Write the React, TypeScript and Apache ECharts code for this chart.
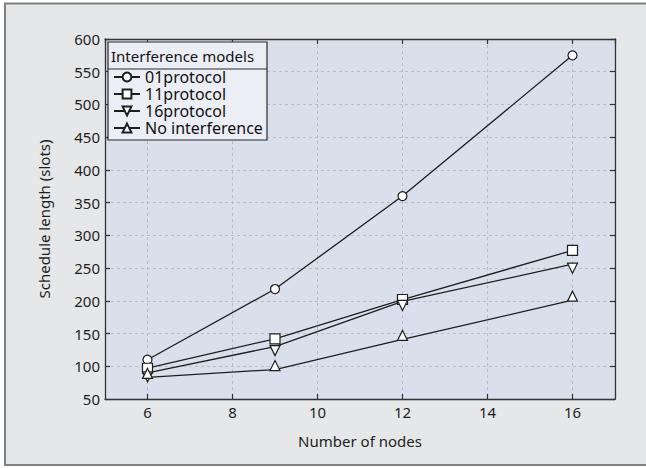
import React, { useEffect, useRef } from "react";
import * as echarts from "echarts";

const nodes = [6, 9, 12, 16];
const seriesNames = ["01protocol", "11protocol", "16protocol", "No interference"];
const protocol01 = [110, 218, 360, 575];
const protocol11 = [97, 142, 202, 277];
const protocol16 = [90, 130, 199, 256];
const noInterference = [83, 95, 141, 201];
const legendTitle = "Interference models";
const xName = "Number of nodes";
const yName = "Schedule length (slots)";

const FONT = "Noto Sans";
const INK = "#1e1e1e";

export default function App() {
  const ref = useRef<HTMLDivElement>(null);
  useEffect(() => {
    if (!ref.current) return;
    const chart = echarts.init(ref.current, undefined, { renderer: "svg" });
    const values = [protocol01, protocol11, protocol16, noInterference];
    const symbols = ["circle", "rect", "triangle", "triangle"];
    const rotates = [0, 0, 180, 0];
    const offsets = [[0, 0], [0, 0], [0, 4], [0, -4]];
    const sizes = [9, 10, 10, 10];
    const series = values.map((vals, i) => ({
      name: seriesNames[i],
      type: "line",
      data: nodes.map((n, j) => [n, vals[j]]),
      symbol: symbols[i],
      symbolSize: sizes[i],
      symbolRotate: rotates[i],
      symbolOffset: offsets[i],
      showAllSymbol: true,
      lineStyle: { color: INK, width: 1.3 },
      itemStyle: { color: "#ffffff", borderColor: INK, borderWidth: 1.2 },
      z: 3,
    }));
    const tickStyle = { show: true, inside: true, length: 5, lineStyle: { color: "#333", width: 1.2 } };
    const axisLine = { show: true, lineStyle: { color: "#333", width: 1.3 } };
    const splitLine = { show: true, lineStyle: { color: "#b9bdc6", width: 1, type: [3, 3] } };
    chart.setOption({
      animation: false,
      backgroundColor: "#ffffff",
      textStyle: { fontFamily: FONT },
      graphic: [
        {
          type: "rect",
          shape: { x: 5, y: 3.5, width: 660, height: 461.5 },
          style: { fill: "#e6e7e8", stroke: "#808080", lineWidth: 2 },
          z: -10,
          silent: true,
        },
        {
          type: "rect",
          shape: { x: 108, y: 42, width: 159, height: 98 },
          style: { fill: "#eceef5", stroke: "#2a2a2a", lineWidth: 1.2 },
          z: 10,
          silent: true,
        },
        {
          type: "line",
          shape: { x1: 108, y1: 69, x2: 267, y2: 69 },
          style: { stroke: "#2a2a2a", lineWidth: 1.2 },
          z: 11,
          silent: true,
        },
        {
          type: "text",
          x: 111,
          y: 55.5,
          style: {
            text: legendTitle,
            fill: "#111",
            font: `15px "${FONT}"`,
            verticalAlign: "middle",
            align: "left",
          },
          z: 11,
          silent: true,
        },
      ],
      legend: {
        orient: "vertical",
        left: 113,
        top: 69,
        padding: 0,
        itemGap: 1,
        itemWidth: 26,
        itemHeight: 11,
        z: 12,
        data: seriesNames,
        textStyle: { fontSize: 16, color: "#111", fontFamily: FONT, lineHeight: 16 },
        selectedMode: false,
      },
      grid: {
        left: 105,
        top: 39,
        right: 31,
        bottom: 69,
        show: true,
        backgroundColor: "#d9dfeb",
        borderWidth: 0,
      },
      xAxis: [
        {
          type: "value",
          min: 5,
          max: 17,
          splitNumber: 6,
          name: xName,
          nameLocation: "middle",
          nameGap: 34,
          nameTextStyle: { fontSize: 15, color: INK, fontFamily: FONT },
          axisLine,
          axisTick: tickStyle,
          splitLine,
          axisLabel: {
            showMinLabel: false,
            showMaxLabel: false,
            fontSize: 15,
            color: INK,
            margin: 5,
            fontFamily: FONT,
          },
        },
        {
          type: "value",
          position: "top",
          min: 5,
          max: 17,
          splitNumber: 6,
          axisLine,
          axisTick: tickStyle,
          splitLine: { show: false },
          axisLabel: { show: false },
        },
      ],
      yAxis: [
        {
          type: "value",
          min: 50,
          max: 600,
          interval: 50,
          name: yName,
          nameLocation: "middle",
          nameGap: 54,
          nameTextStyle: { fontSize: 15, color: INK, fontFamily: FONT },
          axisLine,
          axisTick: tickStyle,
          splitLine,
          axisLabel: { fontSize: 15, color: INK, margin: 5, fontFamily: FONT },
        },
        {
          type: "value",
          position: "right",
          min: 50,
          max: 600,
          interval: 50,
          axisLine,
          axisTick: tickStyle,
          splitLine: { show: false },
          axisLabel: { show: false },
        },
      ],
      series,
    });
    return () => chart.dispose();
  }, []);
  return (
    <div
      ref={ref}
      style={{ position: "absolute", left: 0, top: 0, width: 646, height: 468 }}
    />
  );
}
